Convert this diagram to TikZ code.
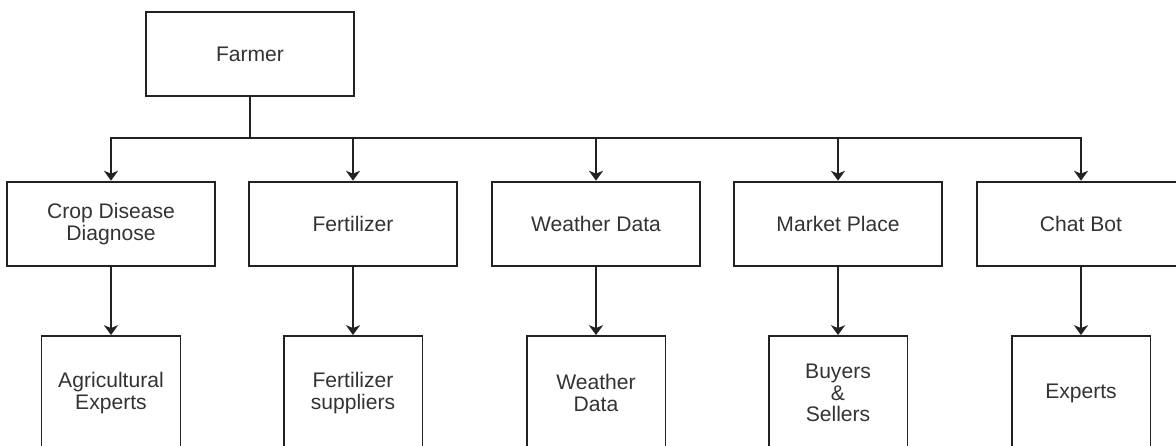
\documentclass[tikz,border=0pt]{standalone}
\usepackage{fontspec}
\setmainfont{Liberation Sans}
\usetikzlibrary{arrows.meta,positioning}

\begin{document}
\begin{tikzpicture}[x=0.025cm, y=-0.025cm,
    box/.style={draw=linegray, line width=1.3pt, text=textgray, align=center,
        font=\fontsize{15}{15.2}\selectfont},
    topbox/.style={box, minimum width=5.2cm, minimum height=2.12cm},
    leafbox/.style={box, minimum width=3.47cm, minimum height=2.85cm},
    link/.style={draw=linegray, line width=1.3pt,
        -{Stealth[length=7pt, width=10pt, inset=2pt]}}]
    % Define custom colors
    \definecolor{linegray}{RGB}{34,34,34}
    \definecolor{textgray}{RGB}{51,51,51}

    \useasboundingbox (0,0) rectangle (1176,446);

    % Farmer (root)
    \node[topbox] (farmer) at (250,54) {Farmer};
    \coordinate (bus) at (250,138);

    % Services
    \node[topbox] (crop) at (111,224) {Crop Disease\\Diagnose};
    \node[topbox] (fert) at (353,224) {Fertilizer};
    \node[topbox] (weather) at (596,224) {Weather Data};
    \node[topbox] (market) at (838,224) {Market Place};
    \node[topbox] (chat) at (1081,224) {Chat Bot};

    % Partners
    \node[leafbox] (experts) at (111,393) {Agricultural\\Experts};
    \node[leafbox] (suppliers) at (353,393) {Fertilizer\\suppliers};
    \node[leafbox] (wdata) at (596,393) {Weather\\Data};
    \node[leafbox] (traders) at (838,393) {Buyers\\\&\\Sellers};
    \node[leafbox] (bot) at (1081,393) {Experts};

    % Tree from farmer
    \draw[draw=linegray, line width=1.3pt] (farmer.south) -- (bus);
    \draw[link] (bus) -| (crop.north);
    \draw[link] (bus) -| (fert.north);
    \draw[link] (bus) -| (weather.north);
    \draw[link] (bus) -| (market.north);
    \draw[link] (bus) -| (chat.north);

    % Services to partners
    \draw[link] (crop) -- (experts);
    \draw[link] (fert) -- (suppliers);
    \draw[link] (weather) -- (wdata);
    \draw[link] (market) -- (traders);
    \draw[link] (chat) -- (bot);
\end{tikzpicture}
\end{document}
